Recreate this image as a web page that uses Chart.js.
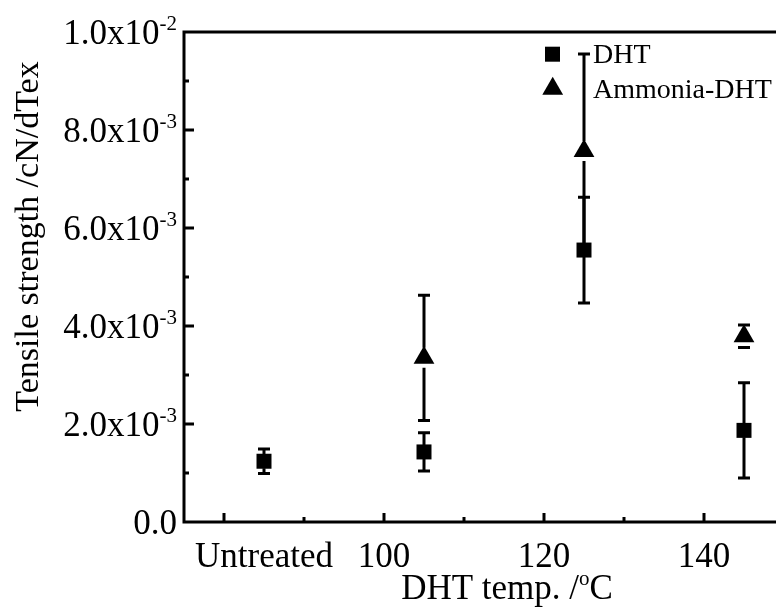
<!DOCTYPE html>
<html>
<head>
<meta charset="utf-8">
<script src="https://cdn.jsdelivr.net/npm/chart.js@4.4.0/dist/chart.umd.min.js"></script>
<style>
  html, body { margin: 0; padding: 0; background: #fff; }
  canvas { display: block; }
</style>
</head>
<body>
<canvas id="myChart" width="776" height="612"></canvas>
<script>
// values (tensile strength in cN/dTex)
var dhtTemp = [85, 105, 125, 145];
var dhtStrength = [1.24e-3, 1.43e-3, 5.55e-3, 1.87e-3];
var dhtError = [0.25e-3, 0.39e-3, 1.08e-3, 0.97e-3];

var ammoniaTemp = [105, 125, 145];
var ammoniaStrength = [3.35e-3, 7.57e-3, 3.79e-3];
var ammoniaError = [1.28e-3, 1.98e-3, 0.23e-3];

var xTickValues = [85, 100, 120, 140];
var xTickLabels = ['Untreated', '100', '120', '140'];
var xMajorTicks = [80, 100, 120, 140];
var xMinorTicks = [90, 110, 130];

var yTickValues = [0, 2e-3, 4e-3, 6e-3, 8e-3, 1e-2];
var yTickLabels = ['0.0', '2.0x10', '4.0x10', '6.0x10', '8.0x10', '1.0x10'];
var yTickExponents = ['', '-3', '-3', '-3', '-3', '-2'];
var yMinorTicks = [1e-3, 3e-3, 5e-3, 7e-3, 9e-3];

var serif = '"Liberation Serif", "Times New Roman", serif';

function toPoints(xs, ys) {
  return xs.map(function (x, i) { return { x: x, y: ys[i] }; });
}

// vertical error bars, drawn under the markers
var errorBars = {
  id: 'errorBars',
  beforeDatasetsDraw: function (chart) {
    var ctx = chart.ctx, xs = chart.scales.x, ys = chart.scales.y;
    ctx.save();
    ctx.strokeStyle = '#000';
    ctx.lineWidth = 3;
    chart.data.datasets.forEach(function (ds) {
      ds.data.forEach(function (p, j) {
        var px = xs.getPixelForValue(p.x), py = ys.getPixelForValue(p.y);
        var top = ys.getPixelForValue(p.y + ds.errors[j]);
        var bot = ys.getPixelForValue(p.y - ds.errors[j]);
        ctx.beginPath();
        ctx.moveTo(px, Math.max(top, py - ds.barGap)); ctx.lineTo(px, top);
        ctx.moveTo(px, Math.min(bot, py + ds.barGap)); ctx.lineTo(px, bot);
        ctx.moveTo(px - 6, top); ctx.lineTo(px + 6, top);
        ctx.moveTo(px - 6, bot); ctx.lineTo(px + 6, bot);
        ctx.stroke();
      });
    });
    ctx.restore();
  }
};

function drawSquare(ctx, x, y, side) {
  ctx.fillRect(x - side / 2, y - side / 2, side, side);
}
function drawTriangle(ctx, x, y, r) {
  ctx.beginPath();
  ctx.moveTo(x, y - r);
  ctx.lineTo(x + r * 0.866, y + r / 2);
  ctx.lineTo(x - r * 0.866, y + r / 2);
  ctx.closePath();
  ctx.fill();
}

// Origin-style frame, inward ticks, labels with superscripts, legend
var originAxes = {
  id: 'originAxes',
  afterDraw: function (chart) {
    var ctx = chart.ctx, a = chart.chartArea;
    var xs = chart.scales.x, ys = chart.scales.y;
    ctx.save();
    ctx.strokeStyle = '#000';
    ctx.fillStyle = '#000';
    ctx.lineWidth = 3;
    ctx.lineJoin = 'miter';

    ctx.beginPath();
    ctx.moveTo(a.right, a.top);
    ctx.lineTo(a.left, a.top);
    ctx.lineTo(a.left, a.bottom);
    ctx.lineTo(a.right, a.bottom);
    ctx.stroke();

    ctx.beginPath();
    xMajorTicks.forEach(function (v) {
      var px = xs.getPixelForValue(v);
      ctx.moveTo(px, a.bottom); ctx.lineTo(px, a.bottom - 9);
    });
    xMinorTicks.forEach(function (v) {
      var px = xs.getPixelForValue(v);
      ctx.moveTo(px, a.bottom); ctx.lineTo(px, a.bottom - 5);
    });
    yTickValues.forEach(function (v) {
      var py = ys.getPixelForValue(v);
      if (v === 0 || v === 1e-2) return;
      ctx.moveTo(a.left, py); ctx.lineTo(a.left + 10, py);
    });
    yMinorTicks.forEach(function (v) {
      var py = ys.getPixelForValue(v);
      ctx.moveTo(a.left, py); ctx.lineTo(a.left + 5, py);
    });
    ctx.stroke();

    // y tick labels
    var rightEdge = a.left - 7;
    yTickValues.forEach(function (v, i) {
      var py = ys.getPixelForValue(v);
      var supW = 0;
      if (yTickExponents[i]) {
        ctx.font = '21px ' + serif;
        supW = ctx.measureText(yTickExponents[i]).width;
        ctx.textAlign = 'left';
        ctx.fillText(yTickExponents[i], rightEdge - supW, py - 2);
      }
      ctx.font = '35px ' + serif;
      ctx.textAlign = 'right';
      ctx.fillText(yTickLabels[i], rightEdge - supW, py + 12);
    });

    // x tick labels
    ctx.font = '35px ' + serif;
    ctx.textAlign = 'center';
    xTickValues.forEach(function (v, i) {
      ctx.fillText(xTickLabels[i], xs.getPixelForValue(v), a.bottom + 45);
    });

    // x title: DHT temp. /°C with raised o
    ctx.textAlign = 'left';
    ctx.font = '35px ' + serif;
    var t1 = 'DHT temp. /', t3 = 'C';
    var w1 = ctx.measureText(t1).width, w3 = ctx.measureText(t3).width;
    ctx.font = '21px ' + serif;
    var w2 = ctx.measureText('o').width;
    var startX = 507 - (w1 + w2 + w3) / 2, base = a.bottom + 77;
    ctx.font = '35px ' + serif;
    ctx.fillText(t1, startX, base);
    ctx.fillText(t3, startX + w1 + w2, base);
    ctx.font = '21px ' + serif;
    ctx.fillText('o', startX + w1, base - 14);

    // y title
    ctx.save();
    ctx.translate(38, 236.5);
    ctx.rotate(-Math.PI / 2);
    ctx.font = '34px ' + serif;
    ctx.textAlign = 'center';
    ctx.fillText('Tensile strength /cN/dTex', 0, 0);
    ctx.restore();

    // legend
    drawSquare(ctx, 552.5, 54.2, 15);
    drawTriangle(ctx, 552.7, 88.7, 12);
    ctx.font = '28px ' + serif;
    ctx.textAlign = 'left';
    ctx.fillText('DHT', 593, 63);
    ctx.fillText('Ammonia-DHT', 593, 98);

    ctx.restore();
  }
};

var ctx = document.getElementById('myChart').getContext('2d');
var myChart = new Chart(ctx, {
  type: 'scatter',
  data: {
    datasets: [{
      label: 'DHT',
      data: toPoints(dhtTemp, dhtStrength),
      errors: dhtError,
      barGap: 7,
      pointStyle: 'rect',
      pointRadius: 10.6,
      backgroundColor: '#000',
      borderColor: '#000',
      borderWidth: 0
    }, {
      label: 'Ammonia-DHT',
      data: toPoints(ammoniaTemp, ammoniaStrength),
      errors: ammoniaError,
      barGap: 10,
      pointStyle: 'triangle',
      pointRadius: 12,
      backgroundColor: '#000',
      borderColor: '#000',
      borderWidth: 0
    }]
  },
  options: {
    responsive: false,
    animation: false,
    events: [],
    layout: { autoPadding: false, padding: { left: 184, top: 32, right: 0, bottom: 90 } },
    plugins: {
      legend: { display: false },
      tooltip: { enabled: false }
    },
    scales: {
      x: { type: 'linear', min: 75, max: 149, display: false },
      y: { type: 'linear', min: 0, max: 0.01, display: false }
    }
  },
  plugins: [errorBars, originAxes]
});
</script>
</body>
</html>
